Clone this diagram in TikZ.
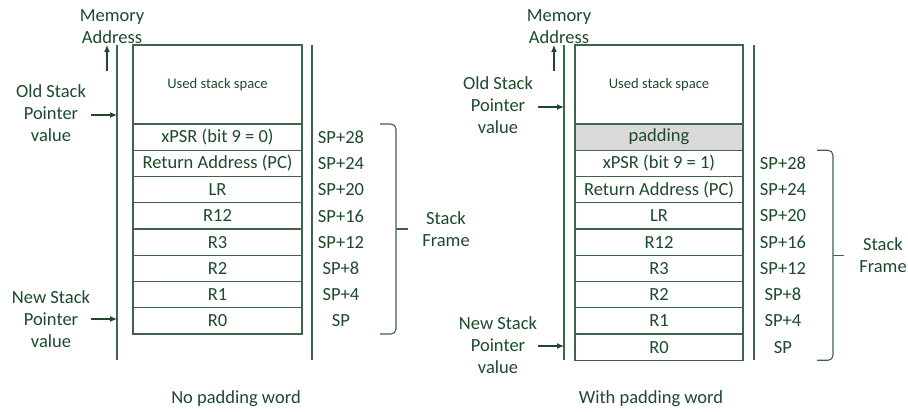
\documentclass[tikz,border=0pt]{standalone}
\usepackage{fontspec}
\setmainfont{Carlito}
\usetikzlibrary{arrows.meta}
\definecolor{dg}{RGB}{28,74,42}
\definecolor{lg}{RGB}{62,100,74}
\definecolor{padgray}{RGB}{217,217,217}
\tikzset{
  cell/.style={draw=lg, line width=1.1pt, minimum height=26.25pt, inner sep=0pt, text=dg, font=\fontsize{18.5}{22}\selectfont},
  lbl/.style={text=dg, inner sep=0pt, align=center, font=\fontsize{18.5}{22}\selectfont},
  rail/.style={draw=lg, line width=1.1pt},
  ptr/.style={draw=dg, line width=1.1pt, -{Latex[length=7pt,width=6pt]}},
  brk/.style={draw=lg, line width=1.1pt, rounded corners=5pt}
}
\begin{document}
\begin{tikzpicture}[x=1pt,y=-1pt]
\useasboundingbox (0,0) rectangle (908,412);
% ===== Left panel =====
\coordinate (L1t) at (117,45); \coordinate (L1b) at (117,360);
\coordinate (L2t) at (312,45); \coordinate (L2b) at (312,360);
\draw[rail] (L1t) -- (L1b);
\draw[rail] (L2t) -- (L2b);
\node[cell, minimum width=169pt, minimum height=79pt, font=\fontsize{14.6}{17}\selectfont] (lused) at (217.5,84.5) {Used stack space};
\foreach \t/\s [count=\i from 0] in {xPSR (bit 9 = 0)/SP+28, Return Address (PC)/SP+24, LR/SP+20, R12/SP+16, R3/SP+12, R2/SP+8, R1/SP+4, R0/SP}{
  \node[cell, minimum width=169pt] (lr\i) at (217.5,{137.125+26.25*\i}) {\t};
  \node[lbl] (ls\i) at (341,{137.125+26.25*\i}) {\s};
}
\node[lbl] (lmem) at (112,27) {Memory\\Address};
\coordinate (lmemA) at (107,71); \coordinate (lmemB) at (107,45);
\draw[ptr] (lmemA) -- (lmemB);
\node[lbl] (lold) at (51,113) {Old Stack\\Pointer\\value};
\coordinate (loldA) at (91,115); \coordinate (loldB) at (117,115);
\draw[ptr] (loldA) -- (loldB);
\node[lbl] (lnew) at (51,319) {New Stack\\Pointer\\value};
\coordinate (lnewA) at (91,319); \coordinate (lnewB) at (117,319);
\draw[ptr] (lnewA) -- (lnewB);
\coordinate (lbt) at (380,124); \coordinate (lbb) at (380,334);
\draw[brk] (lbt) -- (396,124) -- (396,334) -- (lbb);
\draw[brk] (396,229) -- (408,229);
\node[lbl] (lsf) at (446,229) {Stack\\Frame};
\node[lbl] (lcap) at (236,399) {No padding word};
% ===== Right panel =====
\coordinate (R1t) at (564,45); \coordinate (R1b) at (564,360);
\coordinate (R2t) at (754,45); \coordinate (R2b) at (754,360);
\draw[rail] (R1t) -- (R1b);
\draw[rail] (R2t) -- (R2b);
\node[cell, minimum width=168pt, minimum height=79pt, font=\fontsize{14.6}{17}\selectfont] (rused) at (659,84.5) {Used stack space};
\node[cell, minimum width=168pt, fill=padgray] (rpad) at (659,137.125) {padding};
\foreach \t/\s [count=\i from 1] in {xPSR (bit 9 = 1)/SP+28, Return Address (PC)/SP+24, LR/SP+20, R12/SP+16, R3/SP+12, R2/SP+8, R1/SP+4, R0/SP}{
  \node[cell, minimum width=168pt] (rr\i) at (659,{137.125+26.25*\i}) {\t};
  \node[lbl] (rs\i) at (783,{137.125+26.25*\i}) {\s};
}
\node[lbl] (rmem) at (559,27) {Memory\\Address};
\coordinate (rmemA) at (554,71); \coordinate (rmemB) at (554,45);
\draw[ptr] (rmemA) -- (rmemB);
\node[lbl] (rold) at (498,105) {Old Stack\\Pointer\\value};
\coordinate (roldA) at (538,107); \coordinate (roldB) at (564,107);
\draw[ptr] (roldA) -- (roldB);
\node[lbl] (rnew) at (498,345) {New Stack\\Pointer\\value};
\coordinate (rnewA) at (538,346); \coordinate (rnewB) at (564,346);
\draw[ptr] (rnewA) -- (rnewB);
\coordinate (rbt) at (817,150.25); \coordinate (rbb) at (817,360.25);
\draw[brk] (rbt) -- (833,150.25) -- (833,360.25) -- (rbb);
\draw[brk] (833,255.25) -- (844,255.25);
\node[lbl] (rsf) at (883,255) {Stack\\Frame};
\node[lbl] (rcap) at (651,399) {With padding word};
\end{tikzpicture}
\end{document}
